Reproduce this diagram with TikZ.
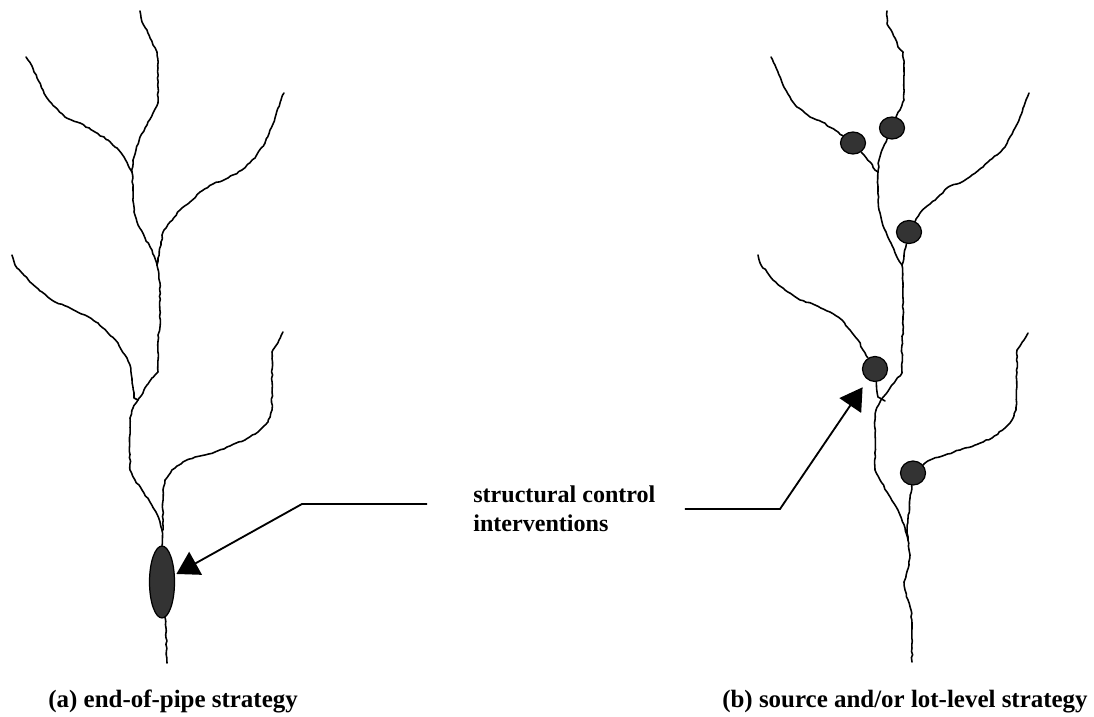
\documentclass[tikz,border=0pt]{standalone}
\usepackage{fontspec}
\setmainfont{Liberation Serif}
\usepackage{tikz}
\usetikzlibrary{arrows.meta,shapes.geometric,decorations.pathmorphing}
\definecolor{pondgray}{HTML}{333333}
\tikzset{
 stream/.style={draw=black,line width=0.9pt,line join=round,line cap=round,
   decorate,decoration={random steps,segment length=1.9pt,amplitude=0.35pt}},
 pond/.style={ellipse,draw=black,line width=0.7pt,fill=pondgray,inner sep=0pt,
   minimum width=0.5cm,minimum height=0.44cm},
 caption/.style={font=\fontsize{13.7}{16.5}\selectfont\bfseries,inner sep=0pt,align=left},
 pointer/.style={-{Triangle[length=0.44cm,width=0.52cm]},line width=1.05pt,draw=black}
}
\pgfmathsetseed{11}
\begin{document}
\begin{tikzpicture}[x=0.02cm,y=-0.02cm]
 \useasboundingbox (0,0) rectangle (1094,716);
 \node[pond,minimum height=1.44cm] (endpipe) at (162,582) {};
 \node[pond] (src1) at (892,128) {};
 \node[pond] (src2) at (853,143) {};
 \node[pond,minimum height=0.46cm] (src3) at (909,232) {};
 \node[pond,minimum height=0.5cm] (src4) at (875,369) {};
 \node[pond,minimum height=0.48cm] (src5) at (913,473) {};
 \coordinate (outletA) at (167,663);
 \coordinate (outletB) at (912,662);
 \draw[stream] (140,11) -- (142,22) -- (147,30) -- (150,38) -- (153,45) -- (157,52) -- (158,68) -- (158,103) -- (153,113) -- (147,125) -- (140,137) -- (136,150) -- (133,160) -- (132,172);
 \draw[stream] (26,57) -- (32,66) -- (37,78) -- (43,90) -- (47,98) -- (55,107) -- (65,117) -- (80,123) -- (95,132) -- (108,140) -- (117,148) -- (124,157) -- (128,165) -- (132,172);
 \draw[stream] (132,172) -- (133,190) -- (134,212) -- (138,225) -- (145,238) -- (152,250) -- (157,265);
 \draw[stream] (284,93) -- (281,100) -- (278,108) -- (275,118) -- (270,130) -- (265,143) -- (255,158) -- (242,170) -- (228,178) -- (213,184) -- (200,192) -- (190,202) -- (180,210) -- (170,222) -- (163,232) -- (161,245) -- (158,258) -- (157,265);
 \draw[stream] (157,265) -- (160,283) -- (160,327) -- (158,335) -- (158,372) -- (152,378) -- (147,385) -- (143,393) -- (138,400);
 \draw[stream] (12,255) -- (15,265) -- (22,273) -- (30,282) -- (42,292) -- (55,302) -- (70,308) -- (85,315) -- (98,323) -- (108,333) -- (118,343) -- (125,355) -- (130,365) -- (132,380) -- (134,398) -- (138,400);
 \draw[stream] (138,400) -- (133,408) -- (130,418) -- (130,470) -- (135,480) -- (142,490) -- (150,502) -- (156,512) -- (160,522) -- (162,530);
 \draw[stream] (283,332) -- (279,340) -- (275,347) -- (272,352) -- (272,410) -- (268,422) -- (258,432) -- (245,440) -- (230,446) -- (215,452) -- (195,457) -- (183,462) -- (172,470) -- (165,480) -- (163,490) -- (163,530);
 \draw[stream] (162,530) -- (endpipe);
 \draw[stream] (endpipe) -- (166,628) -- (outletA);
 \draw[stream] (887,11) -- (887,24) -- (891,30) -- (895,38) -- (898,47) -- (903,52) -- (904,68) -- (904,100) -- (900,110) -- (896,117) -- (src1);
 \draw[stream] (src1) -- (882,150) -- (879,160) -- (878,172);
 \draw[stream] (771,57) -- (775,65) -- (779,75) -- (783,85) -- (790,97) -- (797,107) -- (810,117) -- (822,122) -- (835,130) -- (src2);
 \draw[stream] (src2) -- (870,162) -- (875,170) -- (878,172);
 \draw[stream] (878,172) -- (878,190) -- (879,210) -- (882,222) -- (886,232) -- (891,243) -- (896,255) -- (902,265);
 \draw[stream] (1029,93) -- (1026,100) -- (1023,108) -- (1020,117) -- (1015,128) -- (1010,137) -- (1005,147) -- (997,155) -- (990,160) -- (983,167) -- (972,175) -- (960,183) -- (950,186) -- (940,195) -- (930,204) -- (920,213) -- (src3);
 \draw[stream] (src3) -- (904,255) -- (902,265);
 \draw[stream] (902,265) -- (903,283) -- (903,330) -- (902,345) -- (902,373) -- (896,380) -- (890,388) -- (885,395) -- (880,402) -- (876,410);
 \draw[stream] (758,255) -- (761,265) -- (767,272) -- (773,280) -- (785,290) -- (800,300) -- (815,305) -- (830,312) -- (842,320) -- (850,330) -- (858,340) -- (863,350) -- (src4);
 \draw[stream] (src4) -- (878,397) -- (885,401);
 \draw[stream] (876,410) -- (875,420) -- (875,470) -- (880,480) -- (887,492) -- (895,505) -- (900,515) -- (905,528) -- (908,540);
 \draw[stream] (1028,333) -- (1024,340) -- (1020,346) -- (1017,350) -- (1016,410) -- (1012,420) -- (1005,428) -- (992,438) -- (975,445) -- (960,450) -- (945,455) -- (930,460) -- (src5);
 \draw[stream] (src5) -- (907,530) -- (908,540);
 \draw[stream] (908,540) -- (910,555) -- (909,565) -- (904,582) -- (905,590) -- (908,600) -- (911,610) -- (912,628) -- (outletB);
 \node[caption,anchor=west] (ctrl) at (473,509) {structural control\\interventions};
 \coordinate (bendA) at (302,504);
 \coordinate (bendB) at (780,509);
 \draw[pointer,shorten >=1pt] ([xshift=-0.92cm,yshift=0.1cm]ctrl.west) -- (bendA) -- (endpipe);
 \draw[pointer,shorten >=0.18cm] ([xshift=0.58cm]ctrl.east) -- (bendB) -- (src4);
 \node[caption,font=\fontsize{14.2}{17}\selectfont\bfseries,anchor=base west] (capa) at (48,707) {(a) end-of-pipe strategy};
 \node[caption,font=\fontsize{14.2}{17}\selectfont\bfseries,anchor=base east] (capb) at (1088,707) {(b) source and/or lot-level strategy};
\end{tikzpicture}
\end{document}
